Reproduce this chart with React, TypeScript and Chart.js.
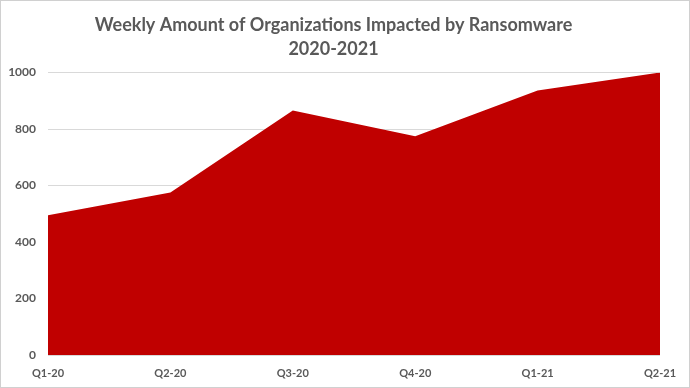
import React, { useEffect, useRef } from "react";
import { Chart, registerables } from "chart.js";

Chart.register(...registerables);

const quarters = ["Q1-20", "Q2-20", "Q3-20", "Q4-20", "Q1-21", "Q2-21"];
const organizations = [495, 575, 866, 775, 937, 1000];
const titleLines = ["Weekly Amount of Organizations Impacted by Ransomware", "2020-2021"];
const yMin = 0;
const yMax = 1000;
const yStep = 200;

export default function App() {
  const canvasRef = useRef<HTMLCanvasElement | null>(null);

  useEffect(() => {
    document.body.style.margin = "0";
    const canvas = canvasRef.current;
    if (!canvas) return;
    const chart = new Chart(canvas, {
      type: "line",
      data: {
        labels: quarters,
        datasets: [
          {
            label: "Organizations",
            data: organizations,
            fill: "origin",
            backgroundColor: "#C00000",
            borderColor: "#C00000",
            borderWidth: 0,
            pointRadius: 0,
            tension: 0,
          },
        ],
      },
      options: {
        animation: false,
        responsive: true,
        maintainAspectRatio: false,
        layout: { padding: { left: 6, right: 29, top: 6, bottom: 0 } },
        plugins: {
          legend: { display: false },
          tooltip: { enabled: false },
          title: {
            display: true,
            text: titleLines,
            color: "#595959",
            font: { family: "Lato, 'Open Sans', sans-serif", size: 18, weight: "bold", lineHeight: 1.35 },
            padding: { top: 6, bottom: 11 },
          },
        },
        scales: {
          x: {
            offset: false,
            grid: { display: false, drawTicks: false },
            border: { display: false },
            afterFit: (scale: any) => {
              scale.height = 32;
            },
            ticks: {
              color: "#595959",
              maxRotation: 0,
              autoSkip: false,
              padding: 12,
              font: { family: "Lato, 'Open Sans', sans-serif", size: 11, weight: "bold" },
            },
          },
          y: {
            min: yMin,
            max: yMax,
            grid: { color: "#d9d9d9", drawTicks: false },
            border: { display: false },
            afterFit: (scale: any) => {
              scale.width = 41;
            },
            ticks: {
              stepSize: yStep,
              color: "#595959",
              padding: 12,
              callback: (v: any) => String(v),
              font: { family: "Lato, 'Open Sans', sans-serif", size: 12, weight: "bold" },
            },
          },
        },
      },
    });
    return () => chart.destroy();
  }, []);

  return (
    <div
      style={{
        width: 690,
        height: 388,
        boxSizing: "border-box",
        border: "1px solid #d0d0d0",
        background: "#ffffff",
        position: "relative",
      }}
    >
      <div style={{ position: "absolute", left: 0, top: 0, width: 688, height: 386 }}>
        <canvas ref={canvasRef} />
      </div>
    </div>
  );
}
